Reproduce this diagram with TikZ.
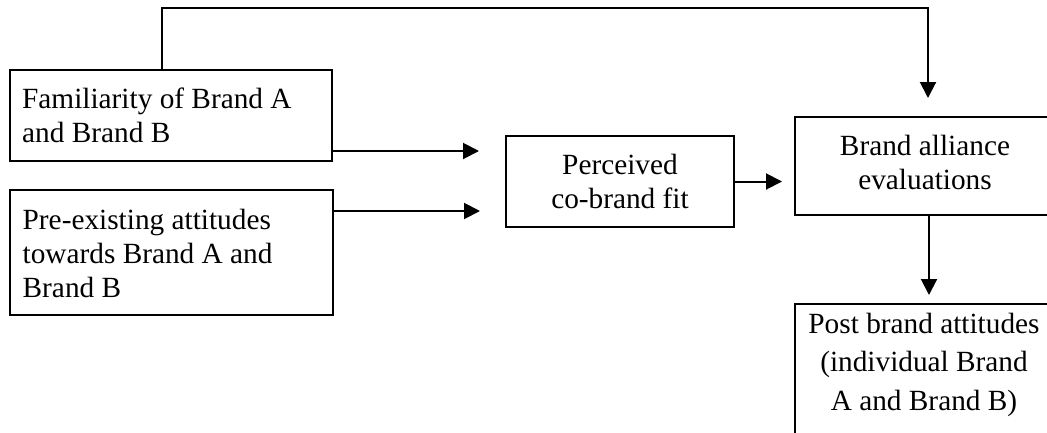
\documentclass[tikz,border=0pt]{standalone}
\usepackage{fontspec}
\setmainfont{Liberation Serif}
\usetikzlibrary{arrows.meta}
\begin{document}
\begin{tikzpicture}[x=1pt,y=-1pt,
  box/.style={draw=black,line width=2pt,inner sep=0pt,outer sep=0pt,anchor=north west},
  txt/.style={inner sep=0pt,font=\fontsize{29.3}{34}\selectfont},
  arr/.style={line width=2pt,-{Triangle[length=16pt,width=16pt]}}]
\useasboundingbox (0,0) rectangle (1047,432);
\clip (0,0) rectangle (1047,432);

% boxes
\node[box,minimum width=322pt,minimum height=91pt] (fam) at (10,70) {};
\node[box,minimum width=323pt,minimum height=125pt] (pre) at (10,190) {};
\node[box,minimum width=228pt,minimum height=91pt] (fit) at (506,136) {};
\node[box,minimum width=260pt,minimum height=98pt] (bae) at (795,117) {};
\node[box,minimum width=260pt,minimum height=160pt] (post) at (795,304) {};

% box texts, placed by the baseline of their last line
\node[txt,anchor=base west,align=left] (famtxt) at (22,142) {Familiarity of Brand A\\and Brand B};
\node[txt,anchor=base west,align=left] (pretxt) at (22.5,297) {Pre-existing attitudes\\towards Brand A and\\Brand B};
\node[txt,anchor=base,align=center] (fittxt) at (620,208) {Perceived\\co-brand fit};
\node[txt,anchor=base,align=center] (baetxt) at (925,189) {Brand alliance\\evaluations};
\node[txt,anchor=base,align=center,font=\fontsize{29.3}{38.5}\selectfont] (posttxt) at (924,410) {Post brand attitudes\\(individual Brand\\A and Brand B)};

% free arrow ends
\coordinate (f1) at (479,151);
\coordinate (f2) at (480,211);
\coordinate (f3) at (782,181.5);
\coordinate (f4) at (929,295);
\coordinate (t1) at (162,8);
\coordinate (t2) at (928,8);
\coordinate (t3) at (928,98);

% connectors
\draw[arr] (t1 |- fam.north) -- (t1) -- (t2) -- (t3);
\draw[arr] (f1 -| fam.east) -- (f1);
\draw[arr] (f2 -| pre.east) -- (f2);
\draw[arr] (fit.east) -- (f3);
\draw[arr] (f4 |- bae.south) -- (f4);
\end{tikzpicture}
\end{document}
